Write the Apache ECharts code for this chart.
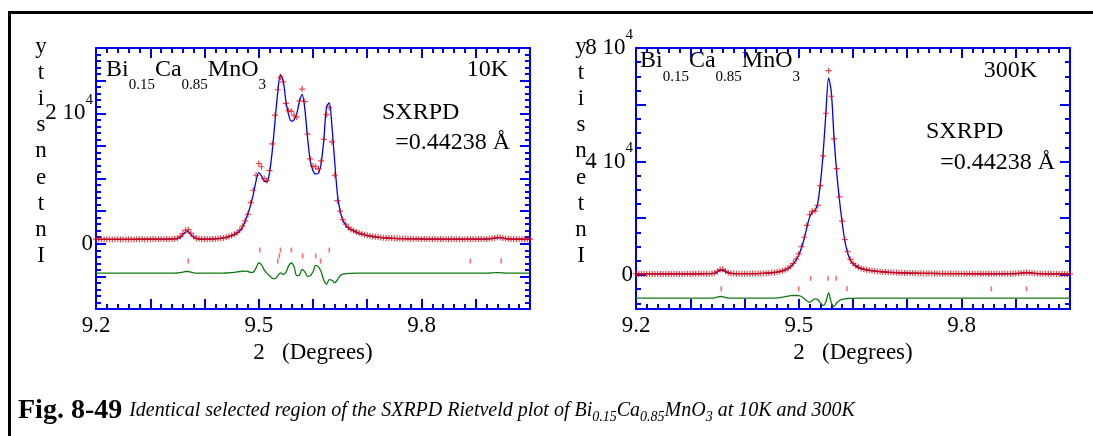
<!DOCTYPE html>
<html>
<head>
<meta charset="utf-8">
<script src="https://cdn.jsdelivr.net/npm/echarts@6/dist/echarts.min.js"></script>
<style>
  html, body { margin: 0; padding: 0; background: #fff; overflow: hidden; }
  #chart { width: 1093px; height: 436px; }
</style>
</head>
<body>
<div id="chart"></div>
<script>
// Scan angles (2-theta, degrees), shared by both temperatures
const twoTheta = [
  9.200,9.205,9.210,9.215,9.220,9.225,9.230,9.235,9.240,9.245,
  9.250,9.255,9.260,9.265,9.270,9.275,9.280,9.285,9.290,9.295,
  9.300,9.305,9.310,9.315,9.320,9.325,9.330,9.335,9.340,9.345,
  9.350,9.355,9.360,9.365,9.370,9.375,9.380,9.385,9.390,9.395,
  9.400,9.405,9.410,9.415,9.420,9.425,9.430,9.435,9.440,9.445,
  9.450,9.455,9.460,9.465,9.470,9.475,9.480,9.485,9.490,9.495,
  9.500,9.505,9.510,9.515,9.520,9.525,9.530,9.535,9.540,9.545,
  9.550,9.555,9.560,9.565,9.570,9.575,9.580,9.585,9.590,9.595,
  9.600,9.605,9.610,9.615,9.620,9.625,9.630,9.635,9.640,9.645,
  9.650,9.655,9.660,9.665,9.670,9.675,9.680,9.685,9.690,9.695,
  9.700,9.705,9.710,9.715,9.720,9.725,9.730,9.735,9.740,9.745,
  9.750,9.755,9.760,9.765,9.770,9.775,9.780,9.785,9.790,9.795,
  9.800,9.805,9.810,9.815,9.820,9.825,9.830,9.835,9.840,9.845,
  9.850,9.855,9.860,9.865,9.870,9.875,9.880,9.885,9.890,9.895,
  9.900,9.905,9.910,9.915,9.920,9.925,9.930,9.935,9.940,9.945,
  9.950,9.955,9.960,9.965,9.970,9.975,9.980,9.985,9.990,9.995,
  10.000
];

// 10 K: observed counts
const obs10K = [
  700,670,690,660,700,680,660,690,700,670,
  690,660,700,680,670,700,680,710,670,700,
  690,720,680,700,710,690,730,700,740,760,
  830,1100,1550,2050,2150,1600,1100,830,750,710,
  730,700,740,730,770,790,850,900,990,1110,
  1260,1450,1700,2100,2700,3500,4500,6300,8200,10500,
  12300,11800,10000,9700,11200,15300,19700,23600,25500,24800,
  21500,20400,20300,19700,19400,21900,23700,21800,16800,13000,
  11900,11800,11500,12700,16000,19800,20900,15600,10500,6600,
  5000,3700,3000,2500,2200,2000,1800,1650,1500,1380,
  1300,1200,1120,1060,1020,950,930,880,870,830,
  830,790,800,770,790,750,760,740,750,730,
  740,710,730,720,700,730,700,720,700,710,
  690,720,700,690,710,700,690,720,700,720,
  700,730,710,740,740,780,820,900,980,960,
  880,800,750,720,720,700,710,690,700,680,
  700
];
// 10 K: calculated profile
const calc10K = [
  680,680,680,680,680,680,680,680,680,680,
  680,680,685,685,685,685,690,690,690,690,
  695,695,700,700,705,705,710,715,720,740,
  800,1000,1400,1800,1850,1400,1000,800,730,710,
  710,712,718,730,750,780,830,900,980,1100,
  1250,1420,1650,2000,2500,3500,4600,5900,7600,9600,
  10900,10400,9600,9500,11000,14300,18800,23200,25900,25000,
  21900,19800,18800,19000,19900,21800,22900,20600,16200,12700,
  11200,10700,10800,12300,16000,21000,21600,17900,12600,7600,
  5000,3600,2900,2450,2150,1950,1750,1600,1470,1360,
  1260,1180,1110,1050,1000,960,920,890,860,840,
  820,800,790,780,770,760,750,745,740,735,
  730,725,720,720,715,715,710,710,710,705,
  705,705,705,700,700,700,700,700,705,705,
  710,710,715,720,730,750,790,850,920,930,
  860,790,740,720,710,700,700,700,695,695,
  690
];
// 10 K: difference curve (shifted)
const diff10K = [
  -4500,-4500,-4500,-4500,-4500,-4500,-4500,-4500,-4500,-4500,
  -4500,-4500,-4500,-4500,-4500,-4500,-4500,-4500,-4500,-4500,
  -4500,-4500,-4500,-4500,-4500,-4500,-4500,-4500,-4500,-4500,
  -4480,-4420,-4350,-4250,-4250,-4350,-4450,-4500,-4500,-4500,
  -4500,-4500,-4500,-4500,-4500,-4500,-4500,-4500,-4480,-4450,
  -4420,-4380,-4300,-4250,-4220,-4200,-4250,-4400,-4350,-3700,
  -2950,-3200,-4000,-4500,-4900,-5300,-5350,-4900,-4450,-4700,
  -4400,-3400,-2950,-3500,-4900,-4800,-3950,-4300,-5000,-4900,
  -4300,-3300,-3500,-4300,-5600,-6200,-5500,-5600,-6000,-5500,
  -4900,-4650,-4600,-4550,-4550,-4520,-4500,-4500,-4500,-4500,
  -4500,-4500,-4500,-4500,-4500,-4500,-4500,-4500,-4500,-4500,
  -4500,-4500,-4500,-4500,-4500,-4500,-4500,-4500,-4500,-4500,
  -4500,-4500,-4500,-4500,-4500,-4500,-4500,-4500,-4500,-4500,
  -4500,-4500,-4500,-4500,-4500,-4500,-4500,-4500,-4500,-4500,
  -4500,-4500,-4500,-4500,-4500,-4480,-4460,-4440,-4420,-4440,
  -4470,-4500,-4500,-4500,-4500,-4500,-4500,-4500,-4500,-4500,
  -4500
];

// 300 K: observed counts
const obs300K = [
  350,320,360,340,330,360,350,340,370,350,
  330,360,350,370,340,360,380,360,370,400,
  380,390,410,400,420,440,420,460,520,650,
  1250,1900,2000,1350,800,560,500,460,430,450,
  430,460,440,470,470,510,520,580,620,700,
  780,880,1020,1200,1450,1800,2300,3100,4100,5600,
  7400,10000,13300,17500,21300,22500,22600,24500,31500,42000,
  57000,72000,63000,48000,37500,27500,19000,12500,8200,5500,
  4100,3300,2700,2300,2050,1800,1650,1480,1380,1250,
  1190,1080,1040,950,920,840,830,760,760,700,
  700,650,660,610,620,570,590,540,560,520,
  540,500,520,480,500,460,480,440,470,430,
  460,420,450,410,440,400,430,400,420,390,
  420,400,410,390,420,410,430,420,450,460,
  500,560,650,760,850,790,660,550,480,440,
  420,390,400,380,390,370,380,360,380,360,
  370
];
// 300 K: calculated profile
const calc300K = [
  350,350,350,350,350,350,355,355,355,360,
  360,360,365,365,370,370,375,375,380,385,
  390,395,400,410,420,430,440,460,500,600,
  1100,1700,1750,1200,750,550,480,450,440,440,
  440,445,450,460,480,500,530,570,620,690,
  770,870,1000,1180,1420,1750,2200,2900,3900,5200,
  7000,9500,12800,16800,20300,22200,22700,25300,32500,43000,
  57000,69500,64500,48500,36000,26500,18500,12000,7800,5300,
  4000,3200,2600,2250,2000,1800,1620,1480,1360,1260,
  1170,1090,1020,960,900,850,810,770,740,710,
  680,660,640,620,600,585,570,555,540,530,
  520,510,500,490,480,470,460,455,450,445,
  440,435,430,425,420,418,415,412,410,408,
  406,405,405,405,408,412,420,430,440,460,
  490,540,620,720,800,760,640,540,470,430,
  410,400,395,390,385,380,378,375,372,370,
  370
];
// 300 K: difference curve (shifted)
const diff300K = [
  -8200,-8200,-8200,-8200,-8200,-8200,-8200,-8200,-8200,-8200,
  -8200,-8200,-8200,-8200,-8200,-8200,-8200,-8200,-8200,-8200,
  -8200,-8200,-8200,-8200,-8200,-8200,-8200,-8200,-8150,-8050,
  -7800,-7600,-7650,-7950,-8150,-8200,-8200,-8200,-8200,-8200,
  -8200,-8200,-8200,-8200,-8200,-8200,-8200,-8200,-8190,-8180,
  -8180,-8150,-8100,-8000,-7850,-7650,-7450,-7300,-7250,-7250,
  -7300,-7600,-8300,-9200,-9600,-9000,-8400,-8700,-9800,-10800,
  -9500,-6300,-9800,-11100,-9900,-9000,-8600,-8400,-8300,-8250,
  -8250,-8200,-8200,-8200,-8200,-8200,-8200,-8200,-8200,-8200,
  -8200,-8200,-8200,-8200,-8200,-8200,-8200,-8200,-8200,-8200,
  -8200,-8200,-8200,-8200,-8200,-8200,-8200,-8200,-8200,-8200,
  -8200,-8200,-8200,-8200,-8200,-8200,-8200,-8200,-8200,-8200,
  -8200,-8200,-8200,-8200,-8200,-8200,-8200,-8200,-8200,-8200,
  -8200,-8200,-8200,-8200,-8200,-8200,-8200,-8200,-8200,-8200,
  -8200,-8200,-8190,-8170,-8150,-8170,-8190,-8200,-8200,-8200,
  -8200,-8200,-8200,-8200,-8200,-8200,-8200,-8200,-8200,-8200,
  -8200
];

// Bragg reflection positions (2-theta) and the row level each set is drawn at
const reflA10K = [9.502, 9.540, 9.560, 9.630];
const reflB10K = [9.538, 9.581, 9.605];
const reflC10K = [9.370, 9.535, 9.614, 9.890, 9.947];
const reflLevels10K = [-970, -1860, -2650];
const reflA300K = [9.522, 9.554, 9.569];
const reflB300K = [9.357, 9.500, 9.589, 9.855, 9.920];
const reflLevels300K = [-1200, -4900];

// Axis tick labels
const xLabelValues = [9.2, 9.5, 9.8];
const yLabels10K = [0, 20000];
const yMajor300K = [0, 20000, 40000, 60000, 80000];
const yMinor300K = [-10000, -5000, 5000, 10000, 15000, 25000, 30000, 35000, 45000, 50000, 55000, 65000, 70000, 75000];
const yLabels300K = [0, 40000, 80000];

const SERIF = '"Liberation Serif", "Times New Roman", serif';
const BLUE = '#0000f0';
const RED = 'rgba(225,0,0,0.9)';
const GREEN = '#127a12';
const TICKRED = '#ff4a4a';
const PLUS = 'path://M2,0H3V2H5V3H3V5H2V3H0V2H2Z';

const zip = (xs, ys) => xs.map((x, i) => [x, ys[i]]);
const atLevel = (xs, level) => xs.map(x => [x, level]);

// "m 10^4" style tick labels: mantissa centred on the tick, exponent raised
const powLabel = v => {
  if (v === 0) return '{n|0}';
  return '{n|' + (v / 10000) + ' 10}{s|4}';
};
const labelRich = {
  n: { fontFamily: SERIF, fontSize: 23, color: '#000', lineHeight: 41, verticalAlign: 'middle' },
  s: { fontFamily: SERIF, fontSize: 15, color: '#000', lineHeight: 15, verticalAlign: 'top' }
};

const lineStyleAxis = { color: BLUE, width: 2 };

function xAxisPair(gridIndex, nameGap) {
  const base = {
    type: 'value', gridIndex, min: 9.2, max: 10.0, interval: 0.1,
    axisLine: { onZero: false, lineStyle: lineStyleAxis },
    axisTick: { inside: true, length: 10, lineStyle: lineStyleAxis },
    minorTick: { show: true, splitNumber: 5, length: 5, lineStyle: lineStyleAxis },
    splitLine: { show: false }, minorSplitLine: { show: false }
  };
  return [
    Object.assign({}, base, {
      position: 'bottom',
      axisLabel: {
        margin: 5, showMinLabel: true, showMaxLabel: true,
        fontFamily: SERIF, fontSize: 23, color: '#000',
        formatter: v => xLabelValues.some(t => Math.abs(t - v) < 1e-6) ? v.toFixed(1) : ''
      },
      name: '2   (Degrees)', nameLocation: 'middle', nameGap,
      nameTextStyle: { fontFamily: SERIF, fontSize: 23, color: '#000' }
    }),
    Object.assign({}, base, { position: 'top', axisLabel: { show: false } })
  ];
}

const yAxes = [
  // 10 K panel
  {
    type: 'value', gridIndex: 0, min: -10000, max: 30000, interval: 5000, position: 'left',
    axisLine: { onZero: false, lineStyle: lineStyleAxis },
    axisTick: { inside: true, length: 10, lineStyle: lineStyleAxis },
    minorTick: { show: true, splitNumber: 5, length: 5, lineStyle: lineStyleAxis },
    splitLine: { show: false },
    axisLabel: {
      margin: 3, rich: labelRich,
      formatter: v => yLabels10K.includes(v) ? powLabel(v) : ''
    }
  },
  {
    type: 'value', gridIndex: 0, min: -10000, max: 30000, interval: 5000, position: 'right',
    axisLine: { onZero: false, lineStyle: lineStyleAxis },
    axisTick: { inside: true, length: 10, lineStyle: lineStyleAxis },
    minorTick: { show: true, splitNumber: 5, length: 5, lineStyle: lineStyleAxis },
    splitLine: { show: false }, axisLabel: { show: false }
  },
  // 300 K panel
  {
    type: 'value', gridIndex: 1, min: -12000, max: 80000, position: 'left',
    axisLine: { onZero: false, lineStyle: lineStyleAxis },
    axisTick: { inside: true, length: 10, customValues: yMajor300K, lineStyle: lineStyleAxis },
    splitLine: { show: false },
    axisLabel: { margin: 3, rich: labelRich, customValues: yLabels300K, formatter: v => powLabel(v) }
  },
  {
    type: 'value', gridIndex: 1, min: -12000, max: 80000, position: 'right',
    axisLine: { onZero: false, lineStyle: lineStyleAxis },
    axisTick: { inside: true, length: 10, customValues: yMajor300K, lineStyle: lineStyleAxis },
    splitLine: { show: false }, axisLabel: { show: false }
  },
  {
    type: 'value', gridIndex: 1, min: -12000, max: 80000, position: 'left',
    axisLine: { show: false },
    axisTick: { inside: true, length: 5, customValues: yMinor300K, lineStyle: lineStyleAxis },
    splitLine: { show: false }, axisLabel: { show: false }
  },
  {
    type: 'value', gridIndex: 1, min: -12000, max: 80000, position: 'right',
    axisLine: { show: false },
    axisTick: { inside: true, length: 5, customValues: yMinor300K, lineStyle: lineStyleAxis },
    splitLine: { show: false }, axisLabel: { show: false }
  }
];

function panelSeries(xi, yi, obs, calc, diff, reflRows) {
  const s = [
    { type: 'line', xAxisIndex: xi, yAxisIndex: yi, data: zip(twoTheta, diff), showSymbol: false,
      smooth: 0.3, lineStyle: { color: GREEN, width: 1.3 }, z: 2 },
    { type: 'line', xAxisIndex: xi, yAxisIndex: yi, data: zip(twoTheta, calc), showSymbol: false,
      smooth: 0.3, lineStyle: { color: BLUE, width: 1.3 }, z: 2 }
  ];
  reflRows.forEach(r => s.push({
    type: 'scatter', xAxisIndex: xi, yAxisIndex: yi, data: atLevel(r[0], r[1]),
    symbol: 'rect', symbolSize: [1.6, 5], itemStyle: { color: TICKRED }, z: 3
  }));
  s.push({ type: 'scatter', xAxisIndex: xi, yAxisIndex: yi, data: zip(twoTheta, obs),
    symbol: PLUS, symbolSize: 6, itemStyle: { color: RED }, z: 4 });
  return s;
}

const textStyle = (size) => ({ fontFamily: SERIF, fontSize: size, fill: '#000' });

// Chemical formula with lowered subscripts; main text centred in a line of height lh,
// subscripts pushed to the bottom of that line
function formula(x, y, lh) {
  return {
    type: 'text', x, y, silent: true,
    style: {
      text: '{m|Bi}{s|0.15}{m|Ca}{s|0.85}{m|MnO}{s|3}',
      align: 'left', textAlign: 'left', verticalAlign: 'top', textVerticalAlign: 'top',
      rich: {
        m: { fontFamily: SERIF, fontSize: 24, lineHeight: lh, verticalAlign: 'middle', fill: '#000' },
        s: { fontFamily: SERIF, fontSize: 15, lineHeight: 15, verticalAlign: 'bottom', fill: '#000' }
      }
    }
  };
}
function label(text, x, y, align, size) {
  return {
    type: 'text', x, y, silent: true,
    style: Object.assign(textStyle(size), {
      text, align, textAlign: align, verticalAlign: 'middle', textVerticalAlign: 'middle'
    })
  };
}
function stacked(x) {
  return {
    type: 'text', x, y: 34, silent: true,
    style: Object.assign(textStyle(23), {
      text: ['y','t','i','s','n','e','t','n','I'].join('\n'), lineHeight: 26.1,
      align: 'center', textAlign: 'center', verticalAlign: 'top', textVerticalAlign: 'top'
    })
  };
}

const chart = echarts.init(document.getElementById('chart'), null, { renderer: 'canvas' });
chart.setOption({
  animation: false,
  backgroundColor: '#fff',
  grid: [
    { left: 96, top: 48, width: 434, height: 261 },
    { left: 636, top: 48, width: 434, height: 261 }
  ],
  xAxis: [...xAxisPair(0, 29), ...xAxisPair(1, 24)],
  yAxis: yAxes,
  series: [
    ...panelSeries(0, 0, obs10K, calc10K, diff10K,
      [[reflA10K, reflLevels10K[0]], [reflB10K, reflLevels10K[1]], [reflC10K, reflLevels10K[2]]]),
    ...panelSeries(2, 2, obs300K, calc300K, diff300K,
      [[reflA300K, reflLevels300K[0]], [reflB300K, reflLevels300K[1]]])
  ],
  graphic: [
    { type: 'rect', silent: true, shape: { x: 9.5, y: 12.5, width: 1200, height: 500 },
      style: { fill: 'none', stroke: '#000', lineWidth: 3 } },
    stacked(41),
    stacked(581),
    formula(106, 47.5, 45),
    label('10K', 508, 70, 'right', 24),
    label('SXRPD', 382, 113, 'left', 24),
    label('=0.44238 Å', 510, 143, 'right', 24),
    formula(640, 37.5, 47),
    label('300K', 1037, 71, 'right', 24),
    label('SXRPD', 926, 132, 'left', 24),
    label('=0.44238 Å', 1055, 163, 'right', 24),
    {
      type: 'text', x: 18, y: 397.5, silent: true,
      style: {
        text: '{b|Fig. 8-49 }{i|Identical selected region of the SXRPD Rietveld plot of Bi}{s|0.15}{i|Ca}{s|0.85}{i|MnO}{s|3}{i| at 10K and 300K}',
        align: 'left', textAlign: 'left', verticalAlign: 'top', textVerticalAlign: 'top',
        rich: {
          b: { fontFamily: SERIF, fontSize: 28, fontWeight: 'bold', lineHeight: 27, verticalAlign: 'middle', fill: '#000' },
          i: { fontFamily: SERIF, fontSize: 20, fontStyle: 'italic', lineHeight: 27, verticalAlign: 'middle', fill: '#000' },
          s: { fontFamily: SERIF, fontSize: 14, fontStyle: 'italic', lineHeight: 14, verticalAlign: 'bottom', fill: '#000' }
        }
      }
    }
  ]
});
</script>
</body>
</html>
